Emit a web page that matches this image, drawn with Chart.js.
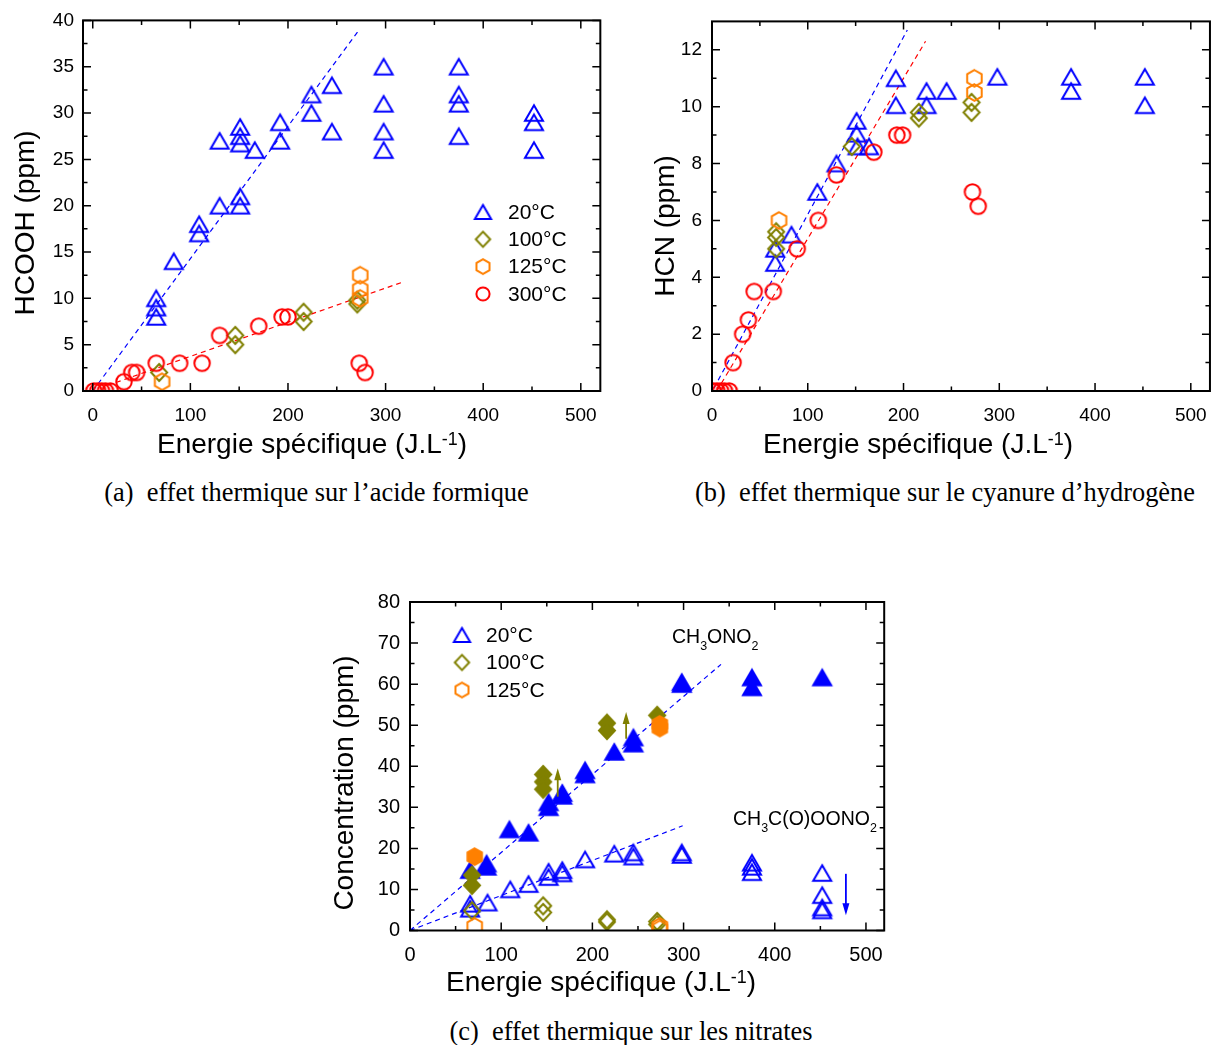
<!DOCTYPE html>
<html>
<head>
<meta charset="utf-8">
<script src="https://cdn.jsdelivr.net/npm/chart.js@4.4.1/dist/chart.umd.min.js"></script>
<style>
  body { margin: 0; background: #fff; width: 1220px; height: 1045px; position: relative; overflow: hidden; }
  canvas { position: absolute; }
  .cap { position: absolute; font-family: "Liberation Serif", "Times New Roman", serif; font-size: 26.4px;
         line-height: 30px; white-space: nowrap; color: #000; text-align: center; }
</style>
</head>
<body>
<canvas id="chartA"></canvas>
<canvas id="chartB"></canvas>
<canvas id="chartC"></canvas>
<div class="cap" style="left:0px;width:633px;top:477px">(a)&ensp;effet thermique sur l’acide formique</div>
<div class="cap" style="left:670px;width:550px;top:477px">(b)&ensp;effet thermique sur le cyanure d’hydrogène</div>
<div class="cap" style="left:331px;width:600px;top:1016px">(c)&ensp;effet thermique sur les nitrates</div>

<script>
// ---- tick labels ----
const energyTicks = [0, 100, 200, 300, 400, 500];
const hcoohTicks = [0, 5, 10, 15, 20, 25, 30, 35, 40];
const hcnTicks = [0, 2, 4, 6, 8, 10, 12];
const concTicks = [0, 10, 20, 30, 40, 50, 60, 70, 80];
const tempLabels = ['20°C', '100°C', '125°C', '300°C'];

// ---- (a) HCOOH (ppm) vs energie specifique, [x, y] ----
const hcooh20 = [[65, 10], [65, 9], [65, 8], [83, 14], [109, 18], [109, 17], [130, 20], [130, 27],
  [151, 28.5], [151, 27.5], [151, 26.7], [151, 21], [151, 20], [166, 26], [192, 29], [192, 27],
  [224, 32], [224, 30], [245, 33], [245, 28], [298, 35], [298, 31], [298, 28], [298, 26],
  [375, 35], [375, 32], [375, 31], [375, 27.5], [452, 30], [452, 29], [452, 26]];
const hcooh100 = [[68, 2], [146, 6], [146, 5], [216, 8.5], [216, 7.5], [271, 9.8], [271, 9.4]];
const hcooh125 = [[71, 1], [274, 12.5], [274, 11], [274, 10]];
const hcooh300 = [[1, 0], [5, 0], [9, 0], [13, 0], [18, 0], [32, 1], [40, 2], [45, 2], [65, 3], [89, 3],
  [112, 3], [130, 6], [170, 7], [194, 8], [200, 8], [273, 3], [279, 2]];
const hcoohFit20 = [[0, 0], [273, 39]];
const hcoohFit300 = [[15, 0.6], [316, 11.7]];

// ---- (b) HCN (ppm) ----
const hcn20 = [[66, 4.5], [66, 5], [83, 5.5], [110, 7], [130, 8], [151, 9.5], [151, 9.05], [152, 8.6],
  [164, 8.6], [192, 11], [192, 10.05], [224, 10.55], [224, 10.05], [245, 10.55], [298, 11.05],
  [375, 11.05], [375, 10.55], [452, 11.05], [452, 10.05]];
const hcn100 = [[67, 5.6], [67, 5.4], [67, 5.0], [146, 8.6], [216, 9.8], [216, 9.6], [271, 10.15], [271, 9.8]];
const hcn125 = [[70, 6], [274, 11], [274, 10.5]];
const hcn300 = [[1, 0], [5, 0], [9, 0], [13, 0], [18, 0], [22, 1], [32, 2], [38, 2.5], [44, 3.5], [64, 3.5],
  [89, 5], [111, 6], [130, 7.6], [169, 8.4], [193, 9], [199, 9], [272, 7], [278, 6.5]];
const hcnFit20 = [[2, 0.1], [204, 12.7]];
const hcnFit300 = [[5, 0], [223, 12.3]];

// ---- (c) nitrates (ppm): CH3ONO2 filled, CH3C(O)OONO2 open ----
const mn20 = [[66, 14.7], [84, 16.3], [84, 15.5], [109, 24.6], [130, 23.8], [152, 31.2], [152, 30],
  [167, 33.5], [167, 32.8], [192, 39], [192, 38], [224, 43.5], [245, 47], [245, 45.5],
  [298, 60.5], [298, 60], [375, 61.6], [375, 59.2], [452, 61.6]];
const mn100 = [[68, 13.5], [68, 11], [146, 38], [146, 36.2], [146, 34.4], [216, 50.5], [216, 48.7], [271, 52.4]];
const mn125 = [[71, 18], [274, 50.2], [274, 49.3]];
const pan20 = [[66, 6.5], [66, 5.3], [85, 6.8], [110, 10], [130, 11.3], [152, 14.3], [152, 13],
  [167, 14.7], [167, 13.9], [192, 17.3], [224, 18.7], [245, 19], [245, 18], [298, 19], [298, 18.4],
  [375, 16.5], [375, 15.5], [375, 14.2], [452, 14], [452, 8.6], [452, 5.6], [452, 4.9]];
const pan100 = [[68, 4.8], [146, 6], [146, 4.4], [216, 2.6], [216, 2.1], [271, 2.2], [271, 1.5]];
const pan125 = [[71, 1], [274, 1], [274, 0.4]];
const mnFit = [[0, 0], [341, 64.8]];
const panFit = [[0, 0], [299, 25.5]];
// arrows [x, yFrom, yTo]
const olivArrows = [[162, 32.6, 39.5], [237, 46.7, 53.2]];
const blueArrows = [[478, 13.8, 3.7]];

const BLUE = '#0000ff', OLIVE = '#808000', ORANGE = '#ff8000', RED = '#ff0000';
const FONT = '"Liberation Sans", Arial, sans-serif';

// marker pictures used as point styles
function marker(shape, color, filled, k) {
  k = k || 1;
  const sz = { tri: [18, 15.5], dia: [16, 17], hex: [14.5, 16.5], cir: [15.5, 15.5] }[shape];
  const w = sz[0] * k, h = sz[1] * k;
  const c = document.createElement('canvas');
  c.width = Math.ceil(w + 8); c.height = Math.ceil(h + 8);
  const g = c.getContext('2d');
  const cx = c.width / 2, cy = c.height / 2;
  g.beginPath();
  if (shape === 'tri') {
    g.moveTo(cx, cy - h / 2); g.lineTo(cx + w / 2, cy + h / 2); g.lineTo(cx - w / 2, cy + h / 2); g.closePath();
  } else if (shape === 'dia') {
    g.moveTo(cx, cy - h / 2); g.lineTo(cx + w / 2, cy); g.lineTo(cx, cy + h / 2); g.lineTo(cx - w / 2, cy); g.closePath();
  } else if (shape === 'hex') {
    g.moveTo(cx, cy - h / 2); g.lineTo(cx + w / 2, cy - h / 4); g.lineTo(cx + w / 2, cy + h / 4);
    g.lineTo(cx, cy + h / 2); g.lineTo(cx - w / 2, cy + h / 4); g.lineTo(cx - w / 2, cy - h / 4); g.closePath();
  } else {
    g.arc(cx, cy, w / 2, 0, Math.PI * 2);
  }
  g.lineWidth = 2; g.strokeStyle = color; g.miterLimit = 3;
  if (filled) { g.fillStyle = color; g.fill(); }
  g.stroke();
  return c;
}

function pts(arr) { return arr.map(p => ({ x: p[0], y: p[1] })); }
function series(arr, style, order) {
  return { data: pts(arr), pointStyle: style, pointRadius: 8, order: order, clip: 0, showLine: false };
}
function fit(arr, color) {
  return { data: pts(arr), showLine: true, borderColor: color, borderWidth: 1.2, borderDash: [5, 4],
    pointRadius: 0, order: 20, clip: 0, fill: false };
}

function mids(t) { const m = []; for (let i = 0; i < t.length - 1; i++) m.push((t[i] + t[i + 1]) / 2); return m; }

// frame + inward ticks on all four sides
const framePlugin = {
  id: 'frame',
  afterDatasetsDraw(chart, args, o) {
    const { ctx, chartArea: a, scales: { x, y } } = chart;
    ctx.save();
    ctx.strokeStyle = '#000';
    ctx.lineWidth = 1.5;
    ctx.beginPath();
    const tx = (v, len) => {
      const p = x.getPixelForValue(v);
      ctx.moveTo(p, a.bottom); ctx.lineTo(p, a.bottom - len);
      ctx.moveTo(p, a.top); ctx.lineTo(p, a.top + len);
    };
    const ty = (v, len) => {
      const p = y.getPixelForValue(v);
      ctx.moveTo(a.left, p); ctx.lineTo(a.left + len, p);
      ctx.moveTo(a.right, p); ctx.lineTo(a.right - len, p);
    };
    o.xMajor.forEach(v => tx(v, 8));
    mids(o.xMajor).forEach(v => tx(v, 4.5));
    o.yMajor.forEach(v => ty(v, 8));
    mids(o.yMajor).forEach(v => ty(v, 4.5));
    ctx.stroke();
    ctx.lineWidth = 2;
    ctx.strokeRect(a.left, a.top, a.right - a.left, a.bottom - a.top);
    ctx.restore();
  }
};

function drawRich(ctx, parts, x, y, size, center) {
  const ws = parts.map(([t, k]) => {
    ctx.font = (k ? size * 0.64 : size) + 'px ' + FONT;
    return ctx.measureText(t).width;
  });
  let cx = center ? x - ws.reduce((s, w) => s + w, 0) / 2 : x;
  parts.forEach(([t, k], i) => {
    ctx.font = (k ? size * 0.64 : size) + 'px ' + FONT;
    const dy = k === 1 ? size * 0.38 : k === 2 ? -size * 0.3 : 0;
    ctx.fillText(t, cx, y + dy);
    cx += ws[i];
  });
}

// titles, legend, notes, arrows
const decoPlugin = {
  id: 'deco',
  afterDraw(chart, args, o) {
    const { ctx, scales: { x, y } } = chart;
    const ox = o.ox, oy = o.oy;
    ctx.save();
    ctx.fillStyle = '#000';
    ctx.textBaseline = 'alphabetic';
    ctx.textAlign = 'left';
    drawRich(ctx, [['Energie spécifique (J.L', 0], ['-1', 2], [')', 0]], o.xTitle[0] - ox, o.xTitle[1] - oy, 28, true);
    ctx.save();
    ctx.translate(o.yTitle[1] - ox, o.yTitle[2] - oy);
    ctx.rotate(-Math.PI / 2);
    ctx.font = '28px ' + FONT;
    ctx.textAlign = 'center';
    ctx.textBaseline = 'middle';
    ctx.fillText(o.yTitle[0], 0, 0);
    ctx.restore();
    if (o.legend) {
      const L = o.legend;
      ctx.font = '21px ' + FONT;
      ctx.textBaseline = 'middle';
      L.items.forEach((it, i) => {
        const cy = L.y - oy + i * L.dy;
        ctx.drawImage(it[0], L.x - ox - it[0].width / 2, cy - it[0].height / 2);
        ctx.fillText(it[1], L.x - ox + L.tx, cy + 1);
      });
      ctx.textBaseline = 'alphabetic';
    }
    (o.notes || []).forEach(n => drawRich(ctx, n.parts, n.x - ox, n.y - oy, 19.5, false));
    (o.arrows || []).forEach(([list, color]) => {
      list.forEach(([ax, y1, y2]) => {
        const px = x.getPixelForValue(ax), p1 = y.getPixelForValue(y1), p2 = y.getPixelForValue(y2);
        const dir = p2 < p1 ? -1 : 1;
        ctx.strokeStyle = color; ctx.fillStyle = color; ctx.lineWidth = 1.8;
        ctx.beginPath(); ctx.moveTo(px, p1); ctx.lineTo(px, p2 - dir * 10); ctx.stroke();
        ctx.beginPath(); ctx.moveTo(px, p2); ctx.lineTo(px - 3.5, p2 - dir * 12); ctx.lineTo(px + 3.5, p2 - dir * 12);
        ctx.closePath(); ctx.fill();
      });
    });
    ctx.restore();
  }
};

function axis(min, max, ticks, size, pad, fitFn) {
  return {
    type: 'linear', min: min, max: max,
    grid: { display: false, drawTicks: false },
    border: { display: false },
    ticks: { color: '#000', font: { family: FONT, size: size }, padding: pad, maxRotation: 0, autoSkip: false,
      callback: v => String(v) },
    afterBuildTicks: s => { s.ticks = ticks.map(v => ({ value: v })); },
    afterFit: fitFn
  };
}

function buildChart(cfg) {
  const g = cfg.geom;
  const cv = document.getElementById(cfg.id);
  cv.width = g.w; cv.height = g.h;
  cv.style.left = g.left + 'px'; cv.style.top = g.top + 'px';
  return new Chart(cv, {
    type: 'scatter',
    data: { datasets: cfg.datasets },
    options: {
      responsive: false, animation: false, events: [],
      layout: { padding: { left: 0, top: g.T - g.top, right: g.left + g.w - g.R, bottom: 0 } },
      scales: {
        x: axis(cfg.xMin, 520, energyTicks, cfg.fs, cfg.xPad, s => { s.height = g.top + g.h - g.B; }),
        y: axis(0, cfg.yMax, cfg.yTicks, cfg.fs, cfg.yPad, s => { s.width = g.L - g.left; })
      },
      plugins: {
        legend: { display: false }, tooltip: { enabled: false },
        frame: { xMajor: energyTicks, yMajor: cfg.yTicks },
        deco: Object.assign({ ox: g.left, oy: g.top }, cfg.deco)
      }
    },
    plugins: [framePlugin, decoPlugin]
  });
}

const triO = marker('tri', BLUE, false), triF = marker('tri', BLUE, true);
const diaO = marker('dia', OLIVE, false), diaF = marker('dia', OLIVE, true);
const hexO = marker('hex', ORANGE, false), hexF = marker('hex', ORANGE, true);
const cirO = marker('cir', RED, false);
const legA = [[marker('tri', BLUE, false, 0.9), tempLabels[0]], [marker('dia', OLIVE, false, 0.9), tempLabels[1]],
  [marker('hex', ORANGE, false, 0.9), tempLabels[2]], [marker('cir', RED, false, 0.85), tempLabels[3]]];

buildChart({
  id: 'chartA', geom: { left: 0, top: 0, w: 610, h: 465, L: 83, T: 19, R: 601.6, B: 391 },
  xMin: -10, yMax: 40, yTicks: hcoohTicks, fs: 19, xPad: 13, yPad: 9,
  datasets: [series(hcooh20, triO, 4), series(hcooh100, diaO, 3), series(hcooh125, hexO, 2),
    series(hcooh300, cirO, 1), fit(hcoohFit20, BLUE), fit(hcoohFit300, RED)],
  deco: { xTitle: [312, 453], yTitle: ['HCOOH (ppm)', 26, 223],
    legend: { x: 483, y: 212, dy: 27.3, tx: 25, items: legA } }
});

buildChart({
  id: 'chartB', geom: { left: 620, top: 0, w: 600, h: 465, L: 712, T: 20.5, R: 1217.4, B: 391 },
  xMin: 0, yMax: 13, yTicks: hcnTicks, fs: 19, xPad: 13, yPad: 10,
  datasets: [series(hcn20, triO, 4), series(hcn100, diaO, 3), series(hcn125, hexO, 2),
    series(hcn300, cirO, 1), fit(hcnFit20, BLUE), fit(hcnFit300, RED)],
  deco: { xTitle: [918, 453], yTitle: ['HCN (ppm)', 666, 226] }
});

buildChart({
  id: 'chartC', geom: { left: 320, top: 580, w: 580, h: 420, L: 410, T: 600, R: 884.2, B: 930.5 },
  xMin: 0, yMax: 80, yTicks: concTicks, fs: 20, xPad: 13, yPad: 10,
  datasets: [series(mn20, triF, 6), series(pan20, triO, 5), series(mn100, diaF, 4), series(pan100, diaO, 3),
    series(mn125, hexF, 2), series(pan125, hexO, 1), fit(mnFit, BLUE), fit(panFit, BLUE)],
  deco: { xTitle: [601, 991], yTitle: ['Concentration (ppm)', 345, 783],
    legend: { x: 462, y: 635, dy: 27.5, tx: 24, items: legA.slice(0, 3) },
    notes: [{ parts: [['CH', 0], ['3', 1], ['ONO', 0], ['2', 1]], x: 672, y: 643 },
      { parts: [['CH', 0], ['3', 1], ['C(O)OONO', 0], ['2', 1]], x: 733, y: 825 }],
    arrows: [[olivArrows, OLIVE], [blueArrows, BLUE]] }
});
</script>
</body>
</html>
